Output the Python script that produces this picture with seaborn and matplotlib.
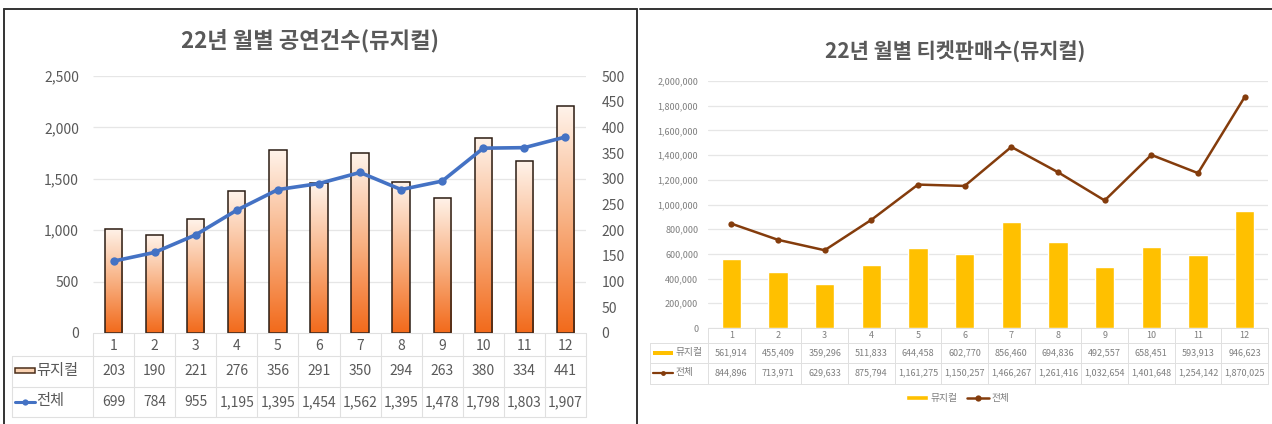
"""
Two Excel-style combo charts: 22년 월별 공연건수 / 티켓판매수 (뮤지컬)
Bars + line with a data table under each chart.
"""

import numpy as np
import matplotlib.pyplot as plt
import seaborn as sns
from matplotlib.colors import LinearSegmentedColormap
from matplotlib.lines import Line2D
from matplotlib.patches import Rectangle
from matplotlib.ticker import FuncFormatter, MultipleLocator
from matplotlib.transforms import blended_transform_factory

# ------------------------------------------------------------
# Data
# ------------------------------------------------------------
months = [str(m) for m in range(1, 13)]

perf_musical = [203, 190, 221, 276, 356, 291, 350, 294, 263, 380, 334, 441]
perf_total = [699, 784, 955, 1195, 1395, 1454, 1562, 1395, 1478, 1798, 1803, 1907]

ticket_musical = [561914, 455409, 359296, 511833, 644458, 602770,
                  856460, 694836, 492557, 658451, 593913, 946623]
ticket_total = [844896, 713971, 629633, 875794, 1161275, 1150257,
                1466267, 1261416, 1032654, 1401648, 1254142, 1870025]

left_title = "22년 월별 공연건수(뮤지컬)"
right_title = "22년 월별 티켓판매수(뮤지컬)"
series_labels = ["뮤지컬", "전체"]

# ------------------------------------------------------------
# Helpers (pixel -> figure coords)
# ------------------------------------------------------------
W, H = 1272, 424


def fx(px):
    return px / W


def fy(py):
    return 1 - py / H


def rect_px(x0, y0, x1, y1):
    return [x0 / W, 1 - y1 / H, (x1 - x0) / W, (y1 - y0) / H]


comma = FuncFormatter(lambda v, p: f"{v:,.0f}")

sns.set_style("white")
plt.rcParams['font.family'] = ['Noto Sans CJK KR', 'DejaVu Sans']

fig = plt.figure(figsize=(W / 100, H / 100), dpi=100)

GRID = "#e6e6e6"
TABLE = "#e0e0e0"

# ============================================================
# Left chart: performances
# ============================================================
L_X0, L_X1, L_Y0, L_Y1 = 93, 586, 76, 333
ax_bar = fig.add_axes(rect_px(L_X0, L_Y0, L_X1, L_Y1))

sns.barplot(x=months, y=perf_musical, ax=ax_bar, width=0.42, errorbar=None,
            facecolor="none", edgecolor="#2b1d14", linewidth=1.1, zorder=3)

# gradient fill inside each bar
peach = LinearSegmentedColormap.from_list(
    "peach", [(0, "#F26A1B"), (0.5, "#F8B183"), (1, "#FFF3EA")])
grad = np.linspace(0, 1, 256).reshape(-1, 1)
for patch in ax_bar.patches:
    x, w, h = patch.get_x(), patch.get_width(), patch.get_height()
    ax_bar.imshow(grad, extent=[x, x + w, 0, h], origin="lower",
                  cmap=peach, aspect="auto", zorder=2)

ax_bar.set_xlim(-0.5, 11.5)
ax_bar.set_ylim(0, 500)
ax_bar.yaxis.set_major_locator(MultipleLocator(50))

ax_line = ax_bar.twinx()
sns.lineplot(x=np.arange(12), y=perf_total, ax=ax_line, color="#4472C4",
             linewidth=2.6, marker="o", markersize=6, markeredgewidth=0, zorder=4)
ax_line.set_ylim(0, 2500)
ax_line.yaxis.set_major_locator(MultipleLocator(500))
ax_line.yaxis.set_major_formatter(comma)

# swap sides: line axis on the left, bar axis on the right
ax_line.yaxis.tick_left()
ax_bar.yaxis.tick_right()

# gridlines follow the left axis ticks, drawn behind the bars
left_ticks = np.arange(500, 2501, 500)
ax_bar.hlines(left_ticks / 5, -0.5, 11.5, color=GRID, linewidth=0.9, zorder=0)

for a in (ax_bar, ax_line):
    for s in a.spines.values():
        s.set_visible(False)
    a.set_xlabel("")
    a.set_ylabel("")

ax_line.tick_params(axis="y", length=0, pad=10, labelsize=10, labelcolor="#595959")
ax_bar.tick_params(axis="y", length=0, pad=11, labelsize=10, labelcolor="#595959")
ax_bar.tick_params(axis="x", length=0, pad=4, labelsize=10, labelcolor="#595959")
ax_bar.set_xlim(-0.5, 11.5)

fig.text(fx(310), fy(41), left_title, ha="center", va="center",
         fontsize=16, fontweight="bold", color="#595959")

# data table
trans_l = blended_transform_factory(ax_bar.transData, fig.transFigure)
for i in range(13):
    fig.add_artist(Line2D([i - 0.5, i - 0.5], [fy(L_Y1), fy(417)],
                          transform=trans_l, color=TABLE, linewidth=0.8))
fig.add_artist(Line2D([fx(12), fx(12)], [fy(356), fy(417)],
                      transform=fig.transFigure, color=TABLE, linewidth=0.8))
fig.add_artist(Line2D([fx(L_X0), fx(L_X1)], [fy(L_Y1), fy(L_Y1)],
                      transform=fig.transFigure, color=TABLE, linewidth=0.8))
for yy in (356, 387, 417):
    fig.add_artist(Line2D([fx(12), fx(L_X1)], [fy(yy), fy(yy)],
                          transform=fig.transFigure, color=TABLE, linewidth=0.8))

for vals, ypx in ((perf_musical, 371), (perf_total, 402)):
    for i, v in enumerate(vals):
        fig.text(i, fy(ypx), f"{v:,}", transform=trans_l, ha="center",
                 va="center", fontsize=10, color="#595959")

fig.add_artist(Rectangle((fx(15), fy(373)), fx(20), 5 / H, transform=fig.transFigure,
                         facecolor="#FAD2B2", edgecolor="#4a2e1a", linewidth=1.1))
fig.add_artist(Line2D([fx(15), fx(35)], [fy(402), fy(402)], transform=fig.transFigure,
                      color="#4472C4", linewidth=2.2))
fig.add_artist(Line2D([fx(25)], [fy(402)], transform=fig.transFigure,
                      color="#4472C4", marker="o", markersize=4.5, markeredgewidth=0))
fig.text(fx(36), fy(370), series_labels[0], ha="left", va="center",
         fontsize=11, color="#595959")
fig.text(fx(36), fy(401), series_labels[1], ha="left", va="center",
         fontsize=11, color="#595959")

# ============================================================
# Right chart: tickets
# ============================================================
R_X0, R_X1, R_Y0, R_Y1 = 708, 1268, 81, 328
ax_r = fig.add_axes(rect_px(R_X0, R_Y0, R_X1, R_Y1))

sns.barplot(x=months, y=ticket_musical, ax=ax_r, width=0.41, errorbar=None,
            color="#FFC000", saturation=1, zorder=2)
sns.lineplot(x=np.arange(12), y=ticket_total, ax=ax_r, color="#843C0C",
             linewidth=1.8, marker="o", markersize=4.5, markeredgewidth=0, zorder=3)

ax_r.set_xlim(-0.5, 11.5)
ax_r.set_ylim(0, 2000000)
ax_r.yaxis.set_major_locator(MultipleLocator(200000))
ax_r.yaxis.set_major_formatter(comma)
ax_r.grid(axis="y", color=GRID, linewidth=0.9)
ax_r.set_axisbelow(True)
for s in ax_r.spines.values():
    s.set_visible(False)
ax_r.set_xlabel("")
ax_r.set_ylabel("")
ax_r.tick_params(axis="y", length=0, pad=7, labelsize=6.5, labelcolor="#7f7f7f")
ax_r.tick_params(axis="x", length=0, pad=2, labelsize=6.5, labelcolor="#7f7f7f")

fig.text(fx(955), fy(52), right_title, ha="center", va="center",
         fontsize=15, fontweight="bold", color="#595959")

trans_r = blended_transform_factory(ax_r.transData, fig.transFigure)
for i in range(13):
    fig.add_artist(Line2D([i - 0.5, i - 0.5], [fy(R_Y1), fy(384)],
                          transform=trans_r, color=TABLE, linewidth=0.7))
fig.add_artist(Line2D([fx(650), fx(650)], [fy(343), fy(384)],
                      transform=fig.transFigure, color=TABLE, linewidth=0.7))
fig.add_artist(Line2D([fx(R_X0), fx(R_X1)], [fy(R_Y1), fy(R_Y1)],
                      transform=fig.transFigure, color=TABLE, linewidth=0.7))
for yy in (343, 363, 384):
    fig.add_artist(Line2D([fx(650), fx(R_X1)], [fy(yy), fy(yy)],
                          transform=fig.transFigure, color=TABLE, linewidth=0.7))

for vals, ypx in ((ticket_musical, 353), (ticket_total, 373)):
    for i, v in enumerate(vals):
        fig.text(i, fy(ypx), f"{v:,}", transform=trans_r, ha="center",
                 va="center", fontsize=6.5, color="#7f7f7f")

fig.add_artist(Rectangle((fx(653), fy(355)), fx(20), 4 / H, transform=fig.transFigure,
                         facecolor="#FFC000", edgecolor="none"))
fig.add_artist(Line2D([fx(653), fx(673)], [fy(373), fy(373)], transform=fig.transFigure,
                      color="#843C0C", linewidth=1.6))
fig.add_artist(Line2D([fx(663)], [fy(373)], transform=fig.transFigure,
                      color="#843C0C", marker="o", markersize=3.5, markeredgewidth=0))
fig.text(fx(676), fy(352), series_labels[0], ha="left", va="center",
         fontsize=7, color="#7f7f7f")
fig.text(fx(676), fy(372), series_labels[1], ha="left", va="center",
         fontsize=7, color="#7f7f7f")

fig.legend([ax_r.patches[0], ax_r.lines[-1]], series_labels, loc="center",
           bbox_to_anchor=(fx(958), fy(398)), ncol=2, frameon=False,
           fontsize=7, labelcolor="#7f7f7f", handlelength=2.2, handleheight=0.5,
           columnspacing=1.0, handletextpad=0.3)

# ============================================================
# Panel borders
# ============================================================
border = dict(transform=fig.transFigure, color="#333333", linewidth=1.4)
fig.add_artist(Line2D([fx(4), fx(4)], [fy(9), 0], **border))
fig.add_artist(Line2D([fx(4), fx(637)], [fy(9), fy(9)], **border))
fig.add_artist(Line2D([fx(637), fx(637)], [fy(9), 0], **border))
fig.add_artist(Line2D([fx(640), 1], [fy(9), fy(9)], **border))

fig.savefig("out.png", dpi=100)
